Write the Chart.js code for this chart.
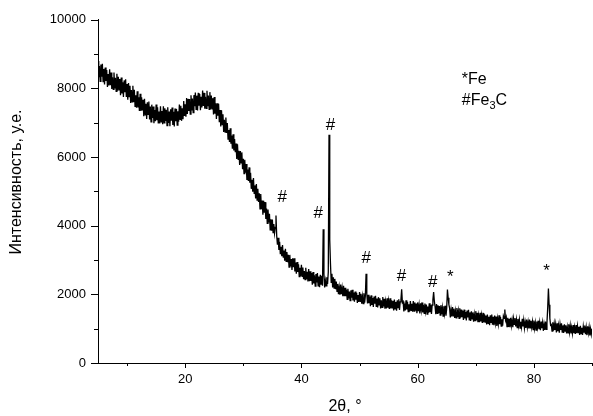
<!DOCTYPE html>
<html>
<head>
<meta charset="utf-8">
<script src="https://cdn.jsdelivr.net/npm/chart.js@4.4.1/dist/chart.umd.min.js"></script>
<style>
    body { margin: 0; background: #fff; }
    canvas { display: block; }
</style>
</head>
<body>
<canvas id="xrdChart" width="593" height="416"></canvas>
<script>
// scan starts at 5 deg, one reading every 0.125 deg
const startAngle = 5;
const stepAngle = 0.125;

// intensity, one row per degree (5 ... 89), then the reading at 90
const intensity = [
    8800, 8330, 8650, 8210, 8695, 8345, 8715, 8200,
    8570, 8115, 8610, 8215, 8540, 8045, 8420, 8085,
    8560, 8096, 8462, 7988, 8324, 7970, 8466, 8002,
    8310, 7918, 8425, 7933, 8340, 7958, 8275, 7803,
    8320, 7856, 8182, 7748, 8234, 7890, 8266, 7752,
    8130, 7670, 8160, 7760, 8080, 7580, 7950, 7610,
    8080, 7605, 7960, 7475, 7800, 7435, 7920, 7445,
    7740, 7341, 7842, 7344, 7745, 7356, 7667, 7189,
    7700, 7231, 7552, 7114, 7595, 7246, 7617, 7099,
    7470, 7024, 7528, 7141, 7475, 6989, 7372, 7046,
    7530, 7074, 7448, 6981, 7325, 6979, 7482, 7026,
    7340, 6960, 7480, 7000, 7420, 7050, 7380, 6920,
    7450, 6994, 7328, 6901, 7395, 7059, 7442, 6936,
    7320, 6892, 7415, 7048, 7400, 6932, 7335, 7028,
    7530, 7099, 7498, 7056, 7425, 7104, 7632, 7201,
    7540, 7179, 7718, 7256, 7695, 7344, 7692, 7251,
    7800, 7359, 7708, 7296, 7805, 7484, 7882, 7391,
    7790, 7355, 7870, 7495, 7840, 7365, 7760, 7445,
    7940, 7490, 7870, 7410, 7760, 7420, 7930, 7480,
    7790, 7391, 7892, 7394, 7795, 7406, 7717, 7239,
    7750, 7263, 7565, 7108, 7570, 7203, 7555, 7018,
    7370, 6893, 7365, 6948, 7250, 6733, 7085, 6728,
    7150, 6700, 6990, 6525, 6790, 6440, 6840, 6390,
    6625, 6246, 6662, 6194, 6525, 6141, 6397, 5944,
    6375, 5931, 6187, 5769, 6175, 5831, 6137, 5644,
    5950, 5516, 5922, 5544, 5800, 5331, 5637, 5304,
    5700, 5250, 5540, 5075, 5340, 4990, 5390, 4940,
    5175, 4796, 5212, 4744, 5075, 4691, 4947, 4494,
    4925, 4481, 4737, 4319, 4725, 4381, 4687, 4194,
    4500, 4066, 4472, 4094, 4350, 3881, 4187, 3854,
    4180, 3800, 4050, 3780, 3950, 4300, 3700, 3450,
    3650, 3296, 3532, 3169, 3385, 3111, 3437, 3084,
    3280, 2984, 3328, 2961, 3235, 2939, 3153, 2796,
    3150, 2810, 3030, 2710, 3050, 2790, 3050, 2670,
    2930, 2601, 2942, 2654, 2875, 2516, 2777, 2529,
    2860, 2528, 2785, 2442, 2680, 2428, 2775, 2442,
    2660, 2379, 2738, 2386, 2675, 2394, 2622, 2281,
    2650, 2321, 2552, 2244, 2595, 2346, 2618, 2249,
    2520, 2210, 2570, 2300, 2540, 2250, 3900, 2600,
    2200, 2400, 2250, 2500, 2300, 2650, 6650, 3600,
    2900, 2350, 2600, 2200, 2500, 2180, 2450, 2150,
    2370, 2088, 2305, 2007, 2210, 1993, 2285, 2002,
    2185, 1944, 2248, 1946, 2190, 1949, 2142, 1851,
    2160, 1882, 2080, 1818, 2115, 1902, 2135, 1823,
    2050, 1784, 2083, 1846, 2045, 1749, 1982, 1776,
    2070, 1795, 2020, 1730, 1940, 1730, 2030, 1755,
    1945, 2600, 2020, 1735, 1985, 1745, 1935, 1655,
    1970, 1695, 1895, 1635, 1935, 1725, 1960, 1650,
    1880, 1616, 1918, 1691, 1885, 1591, 1828, 1624,
    1920, 1646, 1872, 1584, 1790, 1589, 1884, 1613,
    1805, 1572, 1885, 1593, 1825, 1605, 1812, 1532,
    1850, 1578, 1780, 1522, 1825, 1617, 1855, 1547,
    1780, 1850, 2150, 1760, 1790, 1500, 1735, 1530,
    1830, 1557, 1785, 1499, 1710, 1504, 1802, 1532,
    1725, 1492, 1805, 1513, 1765, 1527, 1732, 1452,
    1765, 1507, 1690, 1447, 1740, 1543, 1765, 1472,
    1695, 1448, 1732, 1515, 1700, 1428, 1648, 1462,
    1740, 1482, 1695, 1428, 1690, 1850, 2070, 1800,
    1640, 1423, 1718, 1446, 1680, 1457, 1662, 1395,
    1685, 1425, 1610, 1366, 1650, 1450, 1670, 1380,
    1600, 2140, 1900, 1700, 1600, 1330, 1545, 1355,
    1630, 1371, 1583, 1311, 1510, 1317, 1600, 1341,
    1520, 1301, 1593, 1320, 1555, 1335, 1522, 1254,
    1555, 1296, 1482, 1239, 1525, 1330, 1550, 1254,
    1475, 1226, 1506, 1289, 1475, 1201, 1418, 1234,
    1510, 1250, 1460, 1190, 1385, 1190, 1465, 1210,
    1390, 1170, 1460, 1185, 1420, 1195, 1385, 1120,
    1415, 1158, 1345, 1102, 1390, 1185, 1412, 1118,
    1345, 1098, 1380, 1163, 1350, 1078, 1298, 1133,
    1390, 1132, 1345, 1074, 1275, 1085, 1370, 1300,
    1560, 1250, 1330, 1060, 1320, 1050, 1290, 1040,
    1315, 1088, 1255, 1043, 1290, 1123, 1310, 1062,
    1255, 1033, 1285, 1093, 1260, 1018, 1205, 1047,
    1290, 1063, 1250, 1016, 1190, 1023, 1268, 1042,
    1200, 1008, 1265, 1027, 1230, 1043, 1203, 972,
    1235, 1008, 1175, 962, 1210, 1043, 1233, 982,
    1175, 953, 1207, 1013, 1180, 938, 1128, 962,
    1210, 983, 1170, 1600, 2170, 1700, 1300, 1100,
    1120, 928, 1187, 945, 1150, 963, 1133, 892,
    1155, 928, 1095, 885, 1130, 963, 1153, 902,
    1095, 873, 1127, 933, 1100, 859, 1048, 882,
    1130, 903, 1090, 862, 1030, 863, 1108, 872,
    1040, 849, 1107, 866, 1075, 889, 1053, 821,
    1085, 859, 1025, 816, 1065, 899, 1090, 842,
    1035, 814, 1068, 878, 1045, 806, 992, 836,
    1000
];

const xTickLabels = [20, 40, 60, 80];
const xMinorTicks = [10, 30, 50, 70, 90];
const yTickLabels = [0, 2000, 4000, 6000, 8000, 10000];
const yMinorTicks = [1000, 3000, 5000, 7000, 9000];

// phase marks over the peaks (angle, intensity where the mark sits)
const markAngles = [36.7, 42.9, 45.0, 51.15, 57.2, 62.6, 65.6, 82.2];
const markLevels = [4880, 4400, 6950, 3090, 2560, 2390, 2630, 2800];
const markSymbols = ['#', '#', '#', '#', '#', '#', '*', '*'];

const points = intensity.map((value, i) => ({ x: startAngle + i * stepAngle, y: value }));

const textFont = '"Liberation Sans", Arial, sans-serif';

const decorations = {
    id: 'decorations',
    afterDraw(chart) {
        const ctx = chart.ctx;
        const xs = chart.scales.x;
        const ys = chart.scales.y;
        const area = chart.chartArea;

        ctx.save();
        ctx.strokeStyle = '#000';
        ctx.lineWidth = 1;
        ctx.beginPath();
        yTickLabels.concat(yMinorTicks).forEach(v => {
            const len = yTickLabels.includes(v) ? 7 : 4;
            const py = Math.round(ys.getPixelForValue(v)) + 0.5;
            ctx.moveTo(area.left - len, py);
            ctx.lineTo(area.left, py);
        });
        xTickLabels.concat(xMinorTicks).forEach(v => {
            const len = xTickLabels.includes(v) ? 5 : 3;
            const px = Math.round(xs.getPixelForValue(v)) + 0.5;
            ctx.moveTo(px, area.bottom);
            ctx.lineTo(px, area.bottom + len);
        });
        ctx.stroke();

        ctx.fillStyle = '#000';

        // y axis title, a little above the middle of the axis as in the original
        ctx.save();
        ctx.font = '16px ' + textFont;
        ctx.textAlign = 'center';
        ctx.textBaseline = 'middle';
        ctx.translate(17, 182);
        ctx.rotate(-Math.PI / 2);
        ctx.fillText('Интенсивность, у.е.', 0, 0);
        ctx.restore();

        ctx.font = '17px ' + textFont;
        ctx.textAlign = 'center';
        ctx.textBaseline = 'alphabetic';
        markAngles.forEach((angle, i) => {
            const sym = markSymbols[i];
            const shift = sym == '*' ? 9 : 6;
            ctx.fillText(sym, xs.getPixelForValue(angle), ys.getPixelForValue(markLevels[i]) + shift);
        });

        // legend text
        ctx.font = '16px ' + textFont;
        ctx.textAlign = 'left';
        const lx = xs.getPixelForValue(67.6);
        ctx.fillText('*Fe', lx, ys.getPixelForValue(8131));
        const ly = ys.getPixelForValue(7515);
        ctx.fillText('#Fe', lx, ly);
        let w = ctx.measureText('#Fe').width;
        ctx.font = '11px ' + textFont;
        ctx.fillText('3', lx + w, ly + 4);
        w += ctx.measureText('3').width;
        ctx.font = '16px ' + textFont;
        ctx.fillText('C', lx + w, ly);
        ctx.restore();
    }
};

new Chart(document.getElementById('xrdChart'), {
    type: 'line',
    data: {
        datasets: [{
            data: points,
            borderColor: '#000',
            borderWidth: 1.3,
            pointRadius: 0,
            tension: 0,
            fill: false
        }]
    },
    options: {
        responsive: false,
        animation: false,
        devicePixelRatio: 1,
        layout: { padding: { top: 19, right: 1, left: 0, bottom: 0 } },
        plugins: {
            legend: { display: false },
            tooltip: { enabled: false }
        },
        scales: {
            x: {
                type: 'linear',
                min: 5,
                max: 90,
                afterFit: scale => { scale.height = 53; },
                afterBuildTicks: scale => { scale.ticks = xTickLabels.map(v => ({ value: v })); },
                grid: { display: false, drawTicks: false },
                border: { display: true, color: '#000', width: 1 },
                ticks: {
                    color: '#000',
                    font: { family: textFont, size: 13 },
                    padding: 9,
                    maxRotation: 0,
                    autoSkip: false,
                    callback: v => String(v)
                },
                title: {
                    display: true,
                    text: '2θ, °',
                    color: '#000',
                    font: { family: textFont, size: 16 },
                    padding: { top: 0, bottom: 0 }
                }
            },
            y: {
                min: 0,
                max: 10000,
                afterFit: scale => { scale.width = 98; },
                afterBuildTicks: scale => { scale.ticks = yTickLabels.map(v => ({ value: v })); },
                grid: { display: false, drawTicks: false },
                border: { display: true, color: '#000', width: 1 },
                ticks: {
                    color: '#000',
                    font: { family: textFont, size: 13 },
                    padding: 12,
                    autoSkip: false,
                    callback: v => String(v)
                }
            }
        }
    },
    plugins: [decorations]
});
</script>
</body>
</html>
